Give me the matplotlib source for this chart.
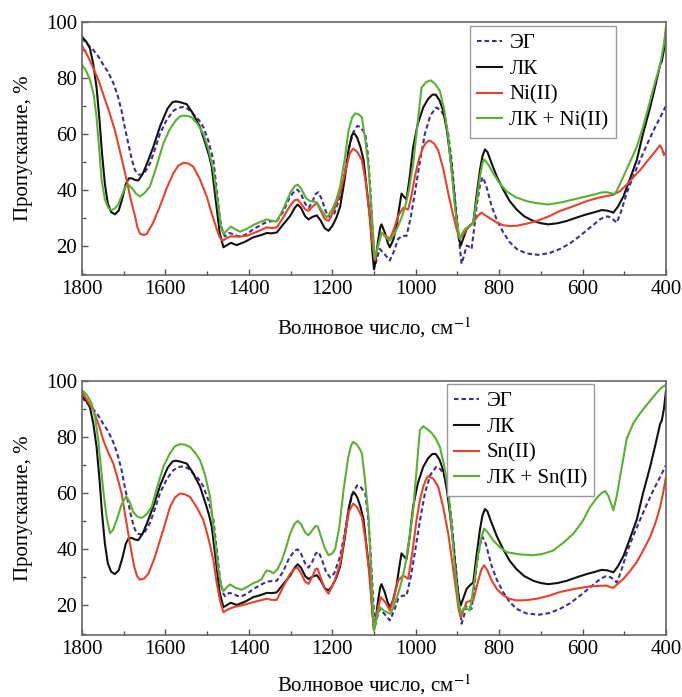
import matplotlib
matplotlib.use("Agg")
from matplotlib import pyplot as plt
from matplotlib.ticker import MultipleLocator

plt.rcParams["font.family"] = ["Liberation Serif", "DejaVu Serif"]
plt.rcParams["mathtext.fontset"] = "stix"

# ЭГ (same in both panels)
eg = [(1800, 94.1), (1790, 92.5), (1773, 90), (1760, 87.5), (1749, 84.7), (1737, 82), (1725, 78.2),
      (1715, 74), (1705, 68.2), (1697, 62), (1689, 56.5), (1680, 50.5), (1673, 47), (1665, 45.5),
      (1657, 45.3), (1648, 46.5), (1637, 49.4), (1625, 54.5), (1613, 60), (1597, 65), (1581, 68.2),
      (1569, 69.3), (1557, 69.6), (1545, 68.8), (1533, 67), (1520, 65), (1509, 62.4), (1497, 57.5),
      (1485, 50.6), (1477, 40), (1469, 29.4), (1462, 24.5), (1457, 23.3), (1447, 24.5), (1437, 24.1),
      (1427, 23.4), (1417, 23.3), (1403, 24.3), (1389, 25.9), (1372, 27.3), (1357, 28.5), (1345, 28.7),
      (1333, 28.8), (1318, 32), (1303, 37), (1290, 39.6), (1283, 40), (1275, 38.5), (1265, 35),
      (1257, 33.5), (1248, 35.5), (1240, 38.5), (1233, 39.1), (1225, 36.5), (1215, 32), (1205, 30),
      (1195, 31.5), (1181, 37.6), (1170, 46), (1161, 54.1), (1150, 60.5), (1140, 62.8), (1133, 62.5),
      (1121, 60), (1115, 53), (1109, 41.2), (1103, 25), (1098, 12.4), (1092, 16), (1086, 18.8),
      (1075, 17), (1062, 14.7), (1052, 18), (1042, 22.4), (1032, 23.5), (1022, 23.5), (1012, 30),
      (1002, 38.8), (990, 50), (978, 60), (965, 66.5), (951, 69.4), (940, 68.5), (930, 65.9),
      (922, 60), (914, 50.6), (906, 37), (898, 24.7), (890, 13.5), (884, 16.5), (878, 20), (870, 19.5),
      (866, 18.8), (860, 26), (854, 34.1), (846, 41.5), (840, 44.5), (832, 42), (818, 34.1), (805, 29),
      (790, 24.7), (775, 21.3), (758, 18.8), (735, 17.2), (706, 16.7), (680, 17.3), (654, 18.8),
      (630, 20.8), (606, 23.5), (580, 26.7), (558, 29.4), (545, 30.4), (538, 30.4), (530, 29.8),
      (518, 28.2), (508, 32), (494, 38.8), (478, 45), (462, 50.6), (446, 56), (430, 61.2),
      (415, 65.5), (400, 70)]

# ЛК (same in both panels)
lk = [(1800, 94.7), (1790, 93), (1781, 90.6), (1773, 85), (1765, 76.5), (1758, 65), (1752, 53),
      (1745, 42), (1738, 35), (1730, 32), (1721, 31.2), (1712, 32.5), (1703, 37), (1695, 42),
      (1688, 44), (1681, 44.1), (1673, 43.5), (1665, 43.3), (1655, 45.5), (1645, 49), (1629, 55.3),
      (1612, 63), (1595, 69), (1583, 71.3), (1575, 71.6), (1565, 71.3), (1549, 70.6), (1535, 67.5),
      (1517, 62.4), (1503, 56), (1495, 52), (1489, 48.2), (1480, 37), (1470, 24.7), (1461, 19.4),
      (1452, 20.2), (1443, 21), (1435, 20.5), (1429, 20.2), (1410, 21.3), (1389, 23), (1370, 23.8),
      (1357, 24.5), (1345, 24.4), (1333, 24.7), (1318, 27.5), (1301, 30.6), (1290, 33.5), (1283, 34.7),
      (1275, 33.5), (1265, 30.5), (1257, 29.4), (1247, 30.3), (1237, 30.8), (1228, 29), (1218, 26.2),
      (1209, 25.3), (1200, 27), (1190, 30), (1181, 34), (1170, 44), (1160, 55), (1153, 59.5),
      (1147, 60.2), (1140, 58.5), (1132, 55), (1125, 50.6), (1117, 40), (1109, 29.4), (1104, 18),
      (1100, 11.5), (1095, 16), (1090, 22), (1085, 26.5), (1082, 27.6), (1074, 24.7), (1067, 21),
      (1062, 19.4), (1054, 22), (1046, 27), (1040, 33), (1034, 38.6), (1028, 37.5), (1022, 36.5),
      (1014, 45), (1006, 55.3), (995, 63.5), (982, 69.4), (970, 72.5), (960, 74), (952, 74),
      (943, 72), (934, 68.2), (925, 61), (918, 52.9), (910, 42), (902, 29.4), (897, 23), (892, 20),
      (885, 23), (878, 25.9), (870, 27.2), (862, 28.2), (854, 38), (846, 47), (840, 52), (834, 54.4),
      (828, 53.5), (818, 49.4), (805, 44.5), (790, 40), (775, 36), (758, 32.9), (740, 30.5),
      (718, 28.8), (700, 28), (682, 27.6), (660, 28), (638, 28.8), (615, 30), (590, 31.2), (570, 32),
      (554, 32.7), (540, 32.5), (526, 31.8), (515, 34), (502, 37.6), (486, 44), (470, 50.6), (455, 60),
      (438, 69.4), (425, 77.5), (414, 84.7), (410, 85.9), (405, 90), (400, 96.5)]

# Ni(II)
ni = [(1800, 91.5), (1785, 87.5), (1773, 83.5), (1760, 79), (1749, 74.1), (1735, 68), (1721, 61.2),
      (1707, 52.5), (1693, 43.5), (1683, 36.5), (1673, 30.6), (1667, 26.5), (1661, 24.3), (1653, 23.8),
      (1645, 24.1), (1630, 28), (1613, 34.1), (1597, 40.5), (1581, 45.9), (1569, 48.6), (1557, 49.6),
      (1545, 49.4), (1533, 48.2), (1518, 44), (1501, 37.6), (1490, 32), (1477, 25.9), (1470, 23),
      (1463, 21.8), (1455, 22.5), (1445, 23.3), (1425, 23.2), (1405, 23.5), (1380, 25), (1357, 26.5),
      (1345, 26.3), (1333, 26.5), (1318, 30), (1300, 34.5), (1290, 36.2), (1283, 36.5), (1275, 35),
      (1265, 33), (1257, 32.4), (1247, 34), (1237, 35.3), (1228, 32.5), (1218, 29.5), (1209, 28.8),
      (1195, 33), (1181, 38.8), (1168, 47), (1158, 53), (1150, 54.7), (1140, 53.5), (1129, 50.6),
      (1120, 43), (1113, 34.1), (1105, 22), (1098, 14.7), (1090, 20), (1082, 24.7), (1072, 23.5),
      (1062, 22.4), (1052, 26), (1042, 30.6), (1030, 33.5), (1018, 32.9), (1010, 38), (1002, 44.7),
      (992, 51), (982, 55.3), (974, 57), (966, 57.6), (956, 56.5), (946, 54.1), (934, 47.5),
      (922, 38.8), (912, 32), (902, 25.9), (894, 22.4), (886, 24), (878, 25.9), (870, 27), (862, 28.2),
      (852, 30.5), (842, 31.8), (830, 30.5), (818, 29.4), (805, 28.2), (790, 27.3), (775, 27),
      (758, 27.1), (735, 27.8), (710, 28.8), (680, 30.5), (654, 32.4), (620, 34.2), (590, 35.9),
      (560, 37.2), (526, 38.2), (510, 39.5), (494, 41.8), (478, 44.5), (462, 47), (446, 50),
      (430, 52.9), (420, 54.8), (414, 55.9), (409, 54.5), (405, 52.4), (400, 53.5)]

# ЛК + Ni(II)
lk_ni = [(1800, 84.7), (1790, 82.5), (1781, 79.4), (1772, 74), (1765, 65.9), (1759, 55), (1753, 43.5),
         (1745, 36.5), (1737, 33.5), (1729, 32.7), (1721, 33.3), (1713, 34.7), (1703, 38.5),
         (1695, 41.3), (1689, 41.8), (1680, 40.5), (1670, 38.5), (1661, 37.6), (1650, 38.8),
         (1637, 41.2), (1622, 48), (1605, 56.5), (1590, 61.5), (1575, 64.8), (1565, 66.2), (1557, 66.5),
         (1547, 66.4), (1537, 65.9), (1523, 63.5), (1509, 60), (1497, 54.5), (1485, 47), (1475, 36),
         (1467, 27), (1461, 24.1), (1452, 25.5), (1443, 26.8), (1432, 25.8), (1421, 25), (1405, 26),
         (1389, 27.4), (1372, 28.5), (1357, 29.4), (1345, 28.9), (1333, 28.6), (1318, 33), (1300, 39),
         (1290, 41.3), (1283, 41.8), (1275, 40.5), (1263, 37), (1253, 35.9), (1245, 35.8), (1237, 35.5),
         (1225, 32.5), (1213, 30), (1200, 33), (1190, 36.5), (1181, 41.2), (1170, 51), (1161, 61.2),
         (1152, 66), (1145, 67.3), (1137, 67), (1129, 65.9), (1121, 58), (1113, 48.2), (1105, 30),
         (1098, 15.3), (1090, 20), (1082, 24.7), (1072, 23), (1062, 21.8), (1052, 24), (1042, 27),
         (1034, 30), (1026, 33.5), (1016, 40), (1006, 49.4), (996, 63), (986, 76.5), (975, 78.5),
         (964, 79.1), (953, 77.8), (942, 75.3), (932, 69), (922, 58.8), (914, 47), (906, 34.1),
         (900, 27), (894, 22.4), (888, 24.5), (882, 25.9), (872, 27), (862, 28.2), (853, 37),
         (846, 44.7), (840, 49.5), (836, 50.8), (826, 49), (814, 45.9), (800, 42.5), (782, 39.4),
         (760, 37.3), (734, 35.9), (710, 35.2), (682, 34.7), (650, 35.5), (622, 36.5), (600, 37.3),
         (574, 38.2), (555, 39), (542, 39.1), (530, 38.7), (522, 38.5), (512, 41.5), (502, 44.7),
         (486, 50), (470, 55.3), (454, 63), (438, 71.8), (426, 78.5), (414, 84.7), (405, 92), (400, 98.2)]

# Sn(II)
sn = [(1800, 96.2), (1787, 93), (1773, 89.6), (1760, 84.5), (1749, 78.9), (1737, 74.5), (1725, 70.6),
      (1715, 65.5), (1705, 59.9), (1695, 51), (1685, 42), (1675, 34), (1668, 30.5), (1661, 29.2),
      (1651, 29.6), (1641, 31.3), (1627, 36.5), (1613, 43.2), (1600, 49.5), (1589, 55.1), (1577, 58.5),
      (1565, 59.9), (1553, 59.6), (1541, 58.7), (1525, 55), (1509, 50.4), (1497, 44), (1485, 36.1),
      (1477, 28), (1469, 21.8), (1461, 17.6), (1450, 18.6), (1437, 19.4), (1413, 20.2), (1389, 21.2),
      (1370, 21.9), (1357, 22.4), (1345, 22), (1333, 22), (1318, 26.5), (1301, 31.3), (1290, 33.1),
      (1283, 33.5), (1275, 31.5), (1265, 28.5), (1257, 27.7), (1247, 30.5), (1240, 33), (1235, 33.1),
      (1228, 30), (1218, 26), (1209, 24.2), (1195, 28.5), (1181, 34.9), (1170, 45), (1160, 53.5),
      (1150, 56.3), (1140, 55), (1129, 51.5), (1120, 43), (1113, 33.7), (1106, 22), (1100, 11.1),
      (1092, 18), (1084, 23), (1072, 21), (1062, 18.2), (1052, 23), (1042, 28.9), (1030, 30.7),
      (1018, 29.5), (1008, 39), (998, 50.4), (990, 57.5), (982, 62.3), (975, 65), (970, 66.1),
      (958, 65.2), (946, 62.3), (934, 55), (922, 45.6), (912, 35), (902, 24.2), (897, 18.5),
      (892, 15.8), (885, 18.5), (878, 21.2), (870, 21.6), (862, 21.8), (855, 26), (850, 28.9),
      (842, 33), (836, 34.3), (828, 32.5), (818, 28.9), (805, 25.8), (790, 23.6), (775, 22.4),
      (758, 21.8), (735, 21.9), (710, 22.4), (680, 23.5), (654, 24.8), (620, 25.9), (582, 26.8),
      (560, 27), (542, 27.1), (535, 26.6), (526, 26.3), (515, 27.8), (502, 29.5), (486, 32.3),
      (470, 35.5), (455, 39.5), (438, 44.4), (425, 49.5), (414, 55.1), (407, 60), (400, 65.8)]

# ЛК + Sn(II)
lk_sn = [(1800, 96.8), (1788, 95), (1777, 92), (1768, 86.5), (1761, 78.9), (1755, 70), (1749, 61),
         (1741, 51.5), (1733, 45.8), (1726, 46.8), (1717, 50.4), (1705, 56), (1694, 58.9), (1686, 57),
         (1677, 53.3), (1667, 51.6), (1657, 51.2), (1645, 52.5), (1633, 55.1), (1620, 62), (1605, 69.4),
         (1590, 74), (1577, 76.8), (1565, 77.5), (1553, 77.3), (1541, 76.5), (1529, 74.5), (1517, 71.8),
         (1505, 66.5), (1493, 58.7), (1483, 46), (1473, 32.5), (1466, 27), (1461, 25.1), (1453, 26.5),
         (1445, 27.5), (1432, 26.3), (1417, 25.6), (1403, 26.7), (1389, 28), (1378, 28.6), (1369, 29.5),
         (1362, 31.5), (1357, 32.5), (1349, 32.2), (1341, 31.5), (1331, 33), (1321, 36), (1311, 40.5),
         (1301, 45.6), (1291, 49), (1283, 50.1), (1275, 49), (1265, 46), (1257, 45), (1247, 47),
         (1240, 48.3), (1235, 48.2), (1228, 45), (1218, 40.5), (1209, 37.9), (1200, 38.5), (1193, 40.2),
         (1183, 48), (1173, 61.1), (1162, 72.5), (1155, 77), (1150, 78.3), (1142, 77.5), (1135, 76),
         (1129, 74.2), (1121, 64), (1113, 51.5), (1106, 30), (1100, 11.1), (1093, 16), (1086, 19.4),
         (1075, 18), (1060, 17), (1050, 21), (1042, 24.2), (1034, 28.5), (1026, 33.7), (1016, 43),
         (1006, 53.9), (998, 68), (990, 82.5), (982, 83.9), (972, 82.8), (962, 81.5), (952, 79.5),
         (942, 76.5), (932, 70), (922, 61.1), (914, 48), (906, 33.7), (898, 22), (892, 17), (887, 18.5),
         (882, 19.4), (876, 18.8), (870, 18.2), (860, 28), (850, 38.5), (842, 44.5), (836, 47.4),
         (826, 45.8), (814, 43.2), (800, 41), (782, 39), (750, 38.2), (718, 37.9), (695, 38.4),
         (670, 39.6), (645, 42.5), (622, 45.6), (600, 50), (582, 55.1), (565, 58.5), (555, 60),
         (546, 60.8), (538, 59), (531, 56), (526, 53.9), (518, 59), (510, 65.8), (502, 72.5),
         (494, 79.5), (478, 85), (462, 88.5), (446, 91.5), (430, 94.4), (418, 96.5), (410, 97.7),
         (400, 98.6)]

c_eg = "#3b2f95"
c_lk = "#111111"
c_red = "#e9412c"
c_green = "#5bb034"


def xy(pts):
    return [p[0] for p in pts], [p[1] for p in pts]


fig = plt.figure(figsize=(6.82, 6.97), dpi=100)
ax1 = fig.add_axes([0.1202, 0.6055, 0.8563, 0.363])
ax2 = fig.add_axes([0.1202, 0.089, 0.8563, 0.3644])

panels = [
    (ax1, ni, "Ni(II)", lk_ni, "ЛК + Ni(II)", (0.914, 0.983), 12),
    (ax2, sn, "Sn(II)", lk_sn, "ЛК + Sn(II)", (0.877, 0.987), 10),
]

for ax, metal, mlab, combo, clab, anchor, pad in panels:
    ax.plot(*xy(eg), color=c_eg, lw=1.5, ls=(0, (2.2, 1.4)), label="ЭГ")
    ax.plot(*xy(lk), color=c_lk, lw=1.5, label="ЛК")
    ax.plot(*xy(metal), color=c_red, lw=1.5, label=mlab)
    ax.plot(*xy(combo), color=c_green, lw=1.5, label=clab)
    ax.set_xlim(1800, 400)
    ax.set_ylim(9.5, 100)
    ax.xaxis.set_major_locator(MultipleLocator(200))
    ax.xaxis.set_minor_locator(MultipleLocator(100))
    ax.yaxis.set_minor_locator(MultipleLocator(10))
    ax.set_yticks([20, 40, 60, 80, 100])
    ax.tick_params(which="both", direction="in", top=False, right=False,
                   labelsize=15, color="#555555", width=1)
    ax.tick_params(which="major", length=4)
    ax.tick_params(which="minor", length=3)
    for s in ax.spines.values():
        s.set_color("#666666")
        s.set_linewidth(1.2)
    ax.set_xlabel("Волновое число, см$^{-1}$", fontsize=15, labelpad=pad)
    ax.set_ylabel("Пропускание, %", fontsize=15, labelpad=9)
    leg = ax.legend(loc="upper right", bbox_to_anchor=anchor, fontsize=15,
                    fancybox=False, framealpha=1, edgecolor="#999999",
                    handlelength=1.2, handletextpad=0.35, labelspacing=0.3,
                    borderpad=0.35, borderaxespad=0)
    leg.get_frame().set_linewidth(1)

fig.savefig("out.png", dpi=100)
